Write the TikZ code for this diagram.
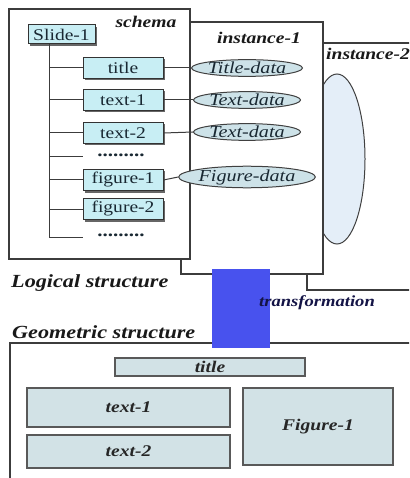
\documentclass[tikz,border=0pt]{standalone}
\usepackage{fontspec}
\setmainfont[FakeStretch=1.2]{Liberation Serif}
\usetikzlibrary{shadows,shapes.geometric}
\definecolor{itemfill}{RGB}{200,238,244}
\definecolor{ellfill}{RGB}{205,226,232}
\definecolor{bigell}{RGB}{228,238,248}
\definecolor{geofill}{RGB}{210,226,230}
\definecolor{lineclr}{RGB}{60,60,60}
\definecolor{txtclr}{RGB}{25,40,50}
\definecolor{blueblk}{RGB}{72,82,238}
\definecolor{navy}{RGB}{20,20,70}
\tikzset{
  frame/.style={draw=lineclr, line width=1.1pt, fill=white},
  item/.style={draw=black!80, line width=1pt, fill=itemfill, minimum width=80pt, minimum height=21pt,
    inner sep=0pt, text=txtclr, font=\fontsize{16.3}{18}\selectfont,
    drop shadow={shadow xshift=2pt, shadow yshift=-2pt, fill=black!60, opacity=1}},
  dots/.style={minimum width=80pt, minimum height=10pt, inner sep=0pt, text=txtclr, font=\fontsize{17.5}{18}\selectfont\bfseries},
  data/.style={ellipse, draw=black!75, line width=1pt, fill=ellfill, minimum width=107pt, minimum height=15pt,
    inner sep=0pt, text=txtclr, font=\fontsize{16.8}{18}\selectfont\itshape},
  lbl/.style={inner sep=0pt, text=black!90, font=\fontsize{16.3}{18}\selectfont\bfseries\itshape},
  biglbl/.style={inner sep=0pt, text=black!90, font=\fontsize{18.5}{20}\selectfont\bfseries\itshape},
  geo/.style={draw=black!65, line width=1.1pt, fill=geofill, inner sep=0pt, text=black!85,
    font=\fontsize{16.3}{18}\selectfont\bfseries\itshape},
  conn/.style={draw=lineclr, line width=1pt},
}
\begin{document}
\begin{tikzpicture}[x=1pt,y=-1pt]
\useasboundingbox (0,0) rectangle (409,478);
\clip (0,0) rectangle (409,478);
% instance-2
\draw[frame] (307,43) rectangle (440,290);
\node[ellipse, draw=black!75, line width=1pt, fill=bigell, minimum width=56pt, minimum height=170pt] (bigel) at (337,159) {};
\node[lbl, anchor=west] (inst2) at (326,54) {instance-2};
% instance-1
\draw[frame] (181,22) rectangle (323,274);
\node[lbl] (inst1) at (259,38) {instance-1};
% schema
\draw[frame] (9,9) rectangle (190,259);
\node[lbl] (schema) at (146,22) {schema};
% tree
\node[item, minimum width=67pt, minimum height=19pt] (slide) at (61.5,34.5) {Slide-1};
\coordinate (trunktop) at (49,44);
\coordinate (trunkbot) at (49,237);
\draw[conn] (trunktop) -- (trunkbot);
\node[item] (title) at (123,68) {title};
\node[item] (t1) at (123,100) {text-1};
\node[item] (t2) at (123,133) {text-2};
\node[dots] (d1) at (121,155) {.........};
\node[item] (f1) at (123,180) {figure-1};
\node[item] (f2) at (123,209) {figure-2};
\node[dots] (d2) at (121,235) {.........};
\foreach \n in {title,t1,t2,f1,f2}{\draw[conn] (trunktop |- \n.west) -- (\n.west);}
\draw[conn] (trunktop |- 0,157) -- (83,157);
\draw[conn] (trunkbot) -- (83,237);
% data ellipses
\node[data] (e1) at (247,68) {Title-data};
\node[data] (e2) at (247,100) {Text-data};
\node[data] (e3) at (247,132) {Text-data};
\node[data] (e4) at (247,177) {Figure-data};
\draw[conn] (title.east) -- (e1.west);
\draw[conn] (t1.east) -- (e2.west);
\draw[conn] (t2.east) -- (e3.west);
\draw[conn] (f1.east) -- (e4.west);
% labels
\node[biglbl, anchor=west] (logical) at (11,283) {Logical structure};
\node[biglbl, anchor=west] (geometric) at (12,332) {Geometric structure};
% geometric box
\draw[frame] (10,343) rectangle (440,500);
\node[geo, minimum width=190pt, minimum height=18pt] (gtitle) at (210,367) {title};
\node[geo, minimum width=203pt, minimum height=39pt] (gt1) at (128.5,407.5) {text-1};
\node[geo, minimum width=203pt, minimum height=33pt] (gt2) at (128.5,451.5) {text-2};
\node[geo, minimum width=150pt, minimum height=77pt] (gf1) at (318,426.5) {Figure-1};
% transformation block
\fill[blueblk] (212,269) rectangle (270,348);
\node[inner sep=0pt, text=navy, font=\fontsize{15.5}{18}\selectfont\bfseries\itshape] (transf) at (317,303) {transformation};
\end{tikzpicture}
\end{document}
